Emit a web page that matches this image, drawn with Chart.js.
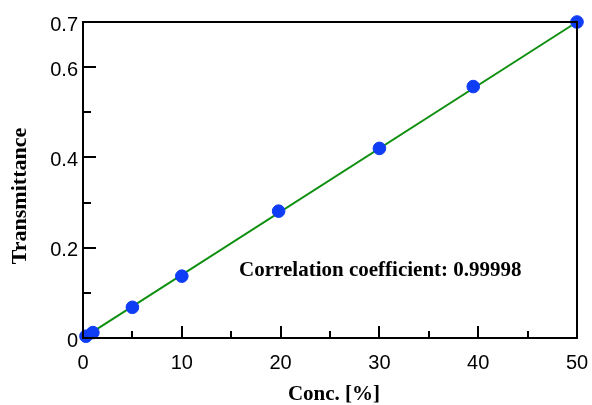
<!DOCTYPE html>
<html>
<head>
<meta charset="utf-8">
<script src="https://cdn.jsdelivr.net/npm/chart.js@4/dist/chart.umd.min.js"></script>
<style>
  html, body { margin: 0; padding: 0; background: #fff; }
  #wrap { width: 592px; height: 405px; position: relative; }
</style>
</head>
<body>
<div id="wrap"><canvas id="c"></canvas></div>
<script>
// ---- data ----
const concValues = [0.3, 1, 5, 10, 19.8, 30, 39.5, 50];
const transmittanceValues = [0.004, 0.012, 0.068, 0.137, 0.281, 0.420, 0.557, 0.700];
const fitLineX = [0.3, 50];
const fitLineY = [0.004, 0.700];
const xTickLabels = [0, 10, 20, 30, 40, 50];
const xMajorTicks = [10, 20, 30, 40];
const xMinorTicks = [5, 15, 25, 35, 45];
const yTickLabels = [0, 0.2, 0.4, 0.6, 0.7];
const yMajorTicks = [0.2, 0.4, 0.6];
const yMinorTicks = [0.1, 0.3, 0.5];
const annotationText = 'Correlation coefficient: 0.99998';
const xTitle = 'Conc. [%]';
const yTitle = 'Transmittance';

const serifFamily = '"Liberation Serif", "Times New Roman", serif';
const sans = { family: '"Liberation Sans", Arial, sans-serif', size: 20 };

const framePlugin = {
  id: 'frame',
  afterDatasetsDraw(chart, args, opts) {
    const { ctx, chartArea: a, scales: { x, y } } = chart;
    ctx.save();
    ctx.strokeStyle = '#000';
    ctx.lineWidth = 2;
    ctx.strokeRect(a.left, a.top, a.right - a.left, a.bottom - a.top);
    // inside ticks
    const drawX = (vals, len) => vals.forEach(v => {
      const px = Math.round(x.getPixelForValue(v));
      ctx.beginPath(); ctx.moveTo(px, a.bottom); ctx.lineTo(px, a.bottom - len); ctx.stroke();
    });
    const drawY = (vals, len) => vals.forEach(v => {
      const py = Math.round(y.getPixelForValue(v));
      ctx.beginPath(); ctx.moveTo(a.left, py); ctx.lineTo(a.left + len, py); ctx.stroke();
    });
    drawX(xMajorTicks, 12); drawX(xMinorTicks, 7);
    drawY(yMajorTicks, 13); drawY(yMinorTicks, 8);
    ctx.fillStyle = '#000';
    // annotation
    ctx.font = 'bold 21px ' + serifFamily;
    ctx.textBaseline = 'middle';
    ctx.textAlign = 'left';
    ctx.fillText(opts.text, x.getPixelForValue(opts.xValue), y.getPixelForValue(opts.yValue));
    // x axis title
    ctx.textAlign = 'center';
    ctx.fillText(opts.xTitle, (a.left + a.right) / 2 + 4, a.bottom + 57);
    // y axis title
    ctx.font = 'bold 22px ' + serifFamily;
    ctx.translate(20, (a.top + a.bottom) / 2 + 16);
    ctx.rotate(-Math.PI / 2);
    ctx.fillText(opts.yTitle, 0, 0);
    ctx.restore();
  }
};

new Chart(document.getElementById('c'), {
  type: 'scatter',
  data: {
    datasets: [
      {
        type: 'line',
        data: fitLineX.map((v, i) => ({ x: v, y: fitLineY[i] })),
        borderColor: '#0f8f0f',
        borderWidth: 2,
        pointRadius: 0,
        fill: false,
        order: 2,
        clip: false
      },
      {
        data: concValues.map((v, i) => ({ x: v, y: transmittanceValues[i] })),
        backgroundColor: '#0f3cf5',
        borderColor: '#0f3cf5',
        pointRadius: 6.3,
        pointHoverRadius: 6.3,
        order: 1,
        clip: false
      }
    ]
  },
  options: {
    responsive: true,
    maintainAspectRatio: false,
    animation: false,
    events: [],
    layout: { padding: { top: 22, right: 15, left: 0, bottom: 0 } },
    plugins: {
      legend: { display: false },
      tooltip: { enabled: false },
      frame: { text: annotationText, xValue: 15.8, yValue: 0.15, xTitle: xTitle, yTitle: yTitle }
    },
    scales: {
      x: {
        type: 'linear',
        min: 0, max: 50,
        afterBuildTicks: s => { s.ticks = xTickLabels.map(v => ({ value: v })); },
        afterFit: s => { s.height = 67; s.paddingLeft = 0; s.paddingRight = 0; },
        grid: { display: false, drawTicks: false },
        border: { display: false },
        ticks: { color: '#000', font: sans, padding: 13, maxRotation: 0, autoSkip: false },
        title: { display: false }
      },
      y: {
        type: 'linear',
        min: 0, max: 0.7,
        afterBuildTicks: s => { s.ticks = yTickLabels.map(v => ({ value: v })); },
        afterFit: s => { s.width = 83; s.paddingTop = 0; s.paddingBottom = 0; },
        grid: { display: false, drawTicks: false },
        border: { display: false },
        ticks: { color: '#000', font: sans, padding: 5, labelOffset: 3, autoSkip: false, callback: v => String(v) },
        title: { display: false }
      }
    }
  },
  plugins: [framePlugin]
});
</script>
</body>
</html>
